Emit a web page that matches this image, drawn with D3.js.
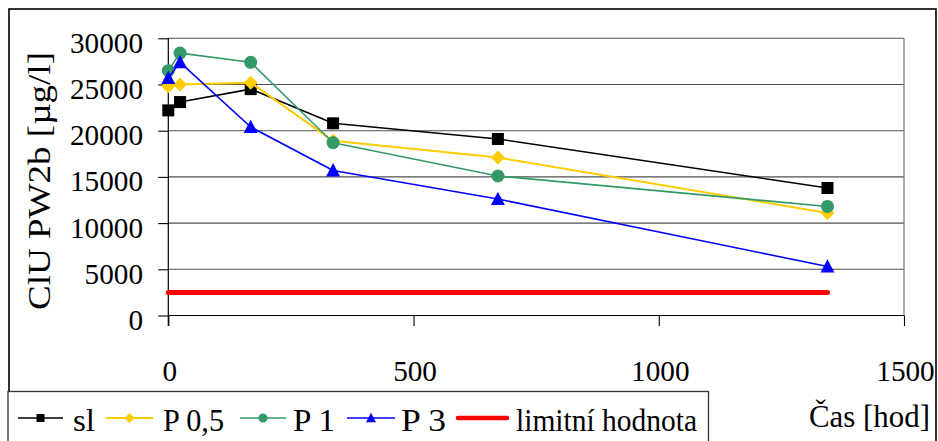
<!DOCTYPE html>
<html>
<head>
<meta charset="utf-8">
<script src="https://cdn.jsdelivr.net/npm/d3@7"></script>
<style>
  html, body { margin: 0; padding: 0; background: #fff; }
  svg { display: block; }
  svg text { font-family: "Liberation Serif", Tinos, "DejaVu Serif", "Noto Serif", "Times New Roman", serif; fill: #000; }
</style>
</head>
<body>
<svg id="chart" width="938" height="441"></svg>
<script>
// Sampling times [hod]
const times = [0, 24, 168, 336, 672, 1344];
// Concentration ClU in PW2b [µg/l]
const sl  = [22200, 23100, 24500, 20800, 19100, 13800];
const p05 = [24800, 25000, 25200, 18900, 17100, 11100];
const p1  = [26500, 28400, 27400, 18700, 15100, 11800];
const p3  = [25700, 27400, 20400, 15700, 12600, 5300];
// Limit value line
const limitTimes = [0, 1344];
const limitValues = [2500, 2500];

const yTicks = [0, 5000, 10000, 15000, 20000, 25000, 30000];
const xTicks = [0, 500, 1000, 1500];

const seriesNames = ["sl", "P 0,5", "P 1", "P 3", "limitní hodnota"];
const yTitle = "ClU PW2b [µg/l]";
const xTitle = "Čas [hod]";

const FS = 30;          // font size for all texts
const DIGIT_W = 14.6;   // advance of one digit in tick labels

const series = [
  { name: seriesNames[0], t: times, v: sl,  color: "#000000", width: 1.6, marker: "square" },
  { name: seriesNames[1], t: times, v: p05, color: "#FFCC00", width: 2,   marker: "diamond" },
  { name: seriesNames[2], t: times, v: p1,  color: "#339966", width: 1.6, marker: "circle" },
  { name: seriesNames[3], t: times, v: p3,  color: "#0000FF", width: 1.6, marker: "triangle" },
  { name: seriesNames[4], t: limitTimes, v: limitValues, color: "#FF0000", width: 5, marker: null }
];

const svg = d3.select("#chart");

const plot = { left: 168.3, right: 904, top: 38.3, bottom: 315.5 };
const x = d3.scaleLinear().domain([0, 1500]).range([plot.left, plot.right]);
const y = d3.scaleLinear().domain([0, 30000]).range([plot.bottom, plot.top]);

// Fit a start-anchored text to a given width
function fit(sel, width) {
  sel.attr("text-anchor", "start")
     .attr("textLength", width)
     .attr("lengthAdjust", "spacingAndGlyphs");
  return sel;
}

// Outer chart frame
svg.append("rect")
  .attr("x", 9).attr("y", 9).attr("width", 927).attr("height", 460)
  .attr("fill", "none").attr("stroke", "#000").attr("stroke-width", 1.6);

// Horizontal gridlines
svg.append("g").selectAll("line")
  .data(yTicks.filter(d => d > 0))
  .join("line")
  .attr("x1", plot.left).attr("x2", plot.right)
  .attr("y1", d => y(d)).attr("y2", d => y(d))
  .attr("stroke", "#505050").attr("stroke-width", 1.1);

// Right edge of the plot area
svg.append("line")
  .attr("x1", plot.right).attr("x2", plot.right)
  .attr("y1", plot.top).attr("y2", plot.bottom)
  .attr("stroke", "#808080").attr("stroke-width", 1.3);

// Y axis
const yAxis = d3.axisLeft(y).tickValues(yTicks).tickSize(10).tickFormat(d3.format("d"));
const gy = svg.append("g").attr("transform", `translate(${plot.left},0)`).call(yAxis)
  .attr("font-family", null).attr("font-size", null);
gy.select(".domain").remove();
gy.selectAll(".tick line").attr("stroke", "#000").attr("stroke-width", 1.1);
gy.selectAll(".tick text").each(function (d) {
  const label = d3.format("d")(d);
  const w = DIGIT_W * label.length;
  fit(d3.select(this), w)
    .attr("font-size", FS)
    .attr("x", 143 - plot.left - w)
    .attr("y", 14).attr("dy", 0);
});
svg.append("line")
  .attr("x1", plot.left).attr("x2", plot.left)
  .attr("y1", plot.top).attr("y2", plot.bottom + 10.5)
  .attr("stroke", "#000").attr("stroke-width", 1.2);

// X axis
const xAxis = d3.axisBottom(x).tickValues(xTicks).tickSize(10.5).tickFormat(d3.format("d"));
const gx = svg.append("g").attr("transform", `translate(0,${plot.bottom})`).call(xAxis)
  .attr("font-family", null).attr("font-size", null);
gx.select(".domain").remove();
gx.selectAll(".tick line").attr("stroke", "#000").attr("stroke-width", 1.1);
gx.selectAll(".tick text").each(function (d) {
  const label = d3.format("d")(d);
  const w = DIGIT_W * label.length;
  fit(d3.select(this), w)
    .attr("font-size", FS)
    .attr("x", -w / 2 + 1)
    .attr("y", 381 - plot.bottom).attr("dy", 0);
});
svg.append("line")
  .attr("x1", plot.left).attr("x2", plot.right)
  .attr("y1", plot.bottom).attr("y2", plot.bottom)
  .attr("stroke", "#000").attr("stroke-width", 1.2);

// Y axis title (rotated, reading bottom to top)
fit(svg.append("text")
  .attr("transform", "translate(50,310) rotate(-90)")
  .attr("x", 0).attr("y", 0)
  .attr("font-size", FS + 1)
  .text(yTitle), 258);

// Marker shapes
function markerPath(type, size) {
  const s = size / 2;
  switch (type) {
    case "square":   return `M${-s},${-s}H${s}V${s}H${-s}Z`;
    case "diamond":  return `M0,${-s}L${s},0L0,${s}L${-s},0Z`;
    case "circle":   return d3.symbol(d3.symbolCircle, Math.PI * s * s)();
    case "triangle": return `M0,${-s * 1.05}L${s},${s * 0.85}L${-s},${s * 0.85}Z`;
  }
  return "";
}
const markerSize = { square: 12, diamond: 14, circle: 13, triangle: 14 };
const legendMarkerSize = { square: 8, diamond: 10, circle: 9, triangle: 10 };

const line = d3.line().x(d => x(d[0])).y(d => y(d[1]));

series.forEach(s => {
  const pts = s.t.map((t, i) => [t, s.v[i]]);
  const g = svg.append("g");
  g.append("path")
    .attr("d", line(pts))
    .attr("fill", "none")
    .attr("stroke", s.color)
    .attr("stroke-width", s.width)
    .attr("stroke-linecap", s.marker ? "butt" : "round")
    .attr("stroke-linejoin", "round");
  if (s.marker) {
    g.selectAll("path.m").data(pts).join("path")
      .attr("class", "m")
      .attr("transform", d => `translate(${x(d[0])},${y(d[1])})`)
      .attr("d", markerPath(s.marker, markerSize[s.marker]))
      .attr("fill", s.color);
  }
});

// Legend
const legend = svg.append("g");
legend.append("rect")
  .attr("x", 8).attr("y", 391.5).attr("width", 700.5).attr("height", 70)
  .attr("fill", "#fff").attr("stroke", "#333").attr("stroke-width", 1.3);

const legendLayout = [
  { x0: 18,  x1: 63,  tx: 73,  tw: 22 },
  { x0: 106, x1: 153, tx: 163, tw: 61 },
  { x0: 240, x1: 286, tx: 293, tw: 42 },
  { x0: 347, x1: 395, tx: 401, tw: 45 },
  { x0: 458, x1: 507, tx: 516, tw: 181 }
];
const ly = 418;
series.forEach((s, i) => {
  const L = legendLayout[i];
  legend.append("line")
    .attr("x1", L.x0).attr("x2", L.x1).attr("y1", ly).attr("y2", ly)
    .attr("stroke", s.color)
    .attr("stroke-width", s.marker ? Math.max(1.5, s.width) : 4.5)
    .attr("stroke-linecap", s.marker ? "butt" : "round");
  if (s.marker) {
    legend.append("path")
      .attr("transform", `translate(${(L.x0 + L.x1) / 2},${ly})`)
      .attr("d", markerPath(s.marker, legendMarkerSize[s.marker]))
      .attr("fill", s.color);
  }
  fit(legend.append("text")
    .attr("x", L.tx).attr("y", 431)
    .attr("font-size", FS + 1)
    .text(s.name), L.tw);
});

// X axis title
fit(svg.append("text")
  .attr("x", 809).attr("y", 427)
  .attr("font-size", FS + 1)
  .text(xTitle), 121);
</script>
</body>
</html>
